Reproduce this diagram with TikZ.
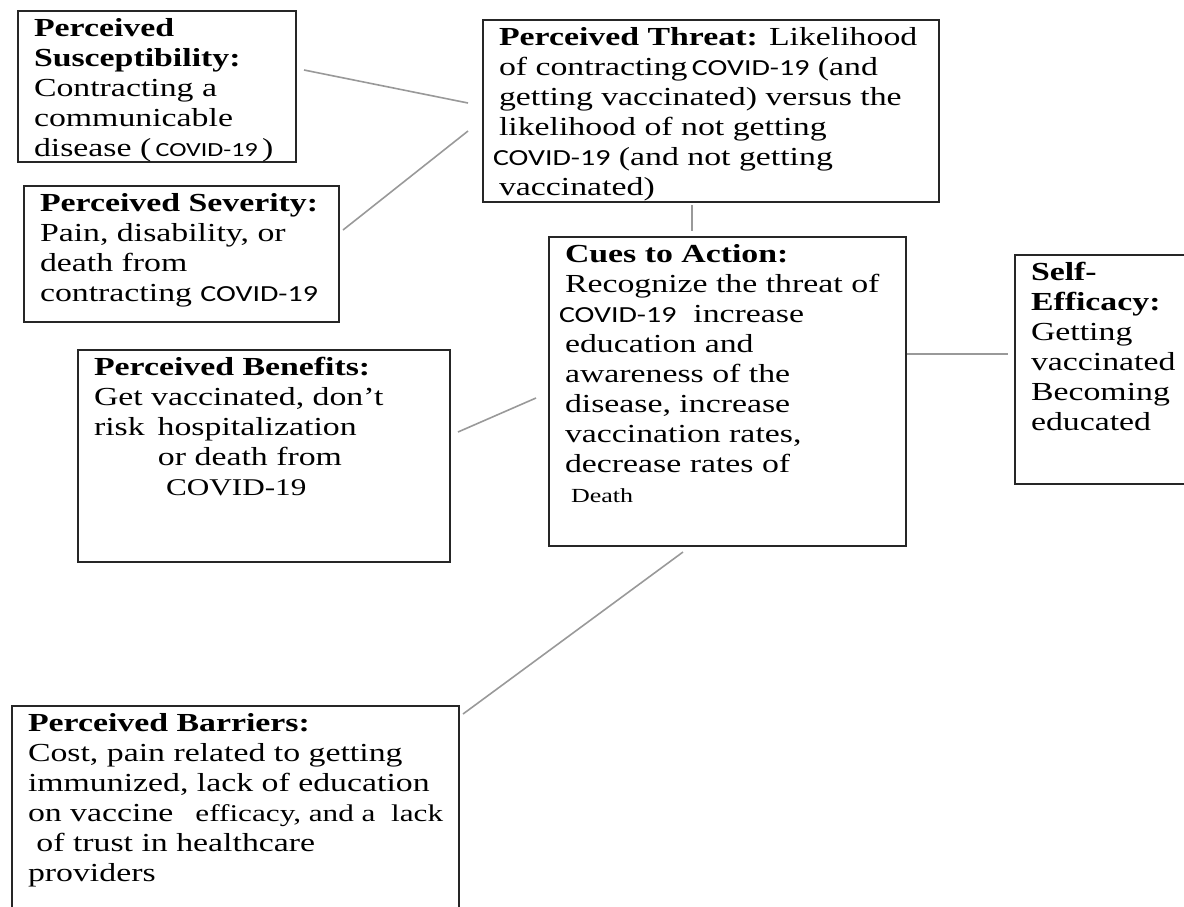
\documentclass[tikz,border=0pt]{standalone}
\usepackage{fontspec}
\setmainfont{Liberation Serif}[FakeStretch=1.3]
\newfontfamily\covfont{Carlito}[FakeStretch=1.3]
\usepackage{tikz}
\usetikzlibrary{calc}

\newcommand{\boxtext}[3]{\begin{minipage}[t][#2][t]{#1}\begin{tabular}[t]{@{}l@{}}#3\end{tabular}\end{minipage}}
\newcommand{\cv}{{\covfont\fontsize{11.5}{15}\selectfont COVID-19}}
\newcommand{\cvsmall}{{\covfont\fontsize{10}{15}\selectfont COVID-19}}

\begin{document}
\begin{tikzpicture}[x=0.5pt,y=-0.5pt,
        hbmbox/.style={draw=black!85,line width=1pt,inner xsep=8pt,inner ysep=2pt,anchor=north west,
            font=\fontsize{13}{15}\selectfont},
        link/.style={draw=black!40,line width=0.8pt}]
        \useasboundingbox (0,0) rectangle (1184,906);

        % Блоки
        \node[hbmbox] (sus) at (17,10) {\boxtext{123pt}{71.5pt}{\textbf{Perceived}\\ \textbf{Susceptibility:}\\ Contracting a\\ communicable\\ disease (\,\cvsmall\,)}};
        \node[hbmbox] (threat) at (482,19) {\boxtext{212pt}{87pt}{\textbf{Perceived Threat:} Likelihood\\ of contracting\,\cv{} (and\\ getting vaccinated) versus the\\ likelihood of not getting\\ \hspace*{-3pt}\cv{} (and not getting\\ vaccinated)}};
        \node[hbmbox] (sev) at (23,185) {\boxtext{141.5pt}{64pt}{\textbf{Perceived Severity:}\\ Pain, disability, or\\ death from\\ contracting \cv}};
        \node[hbmbox] (cues) at (548,236) {\boxtext{162.5pt}{150.5pt}{\textbf{Cues to Action:}\\ Recognize the threat of\\ \hspace*{-3pt}\cv\ \ increase\\ education and\\ awareness of the\\ disease, increase\\ vaccination rates,\\ decrease rates of\\ \hspace*{3pt}{\fontsize{10}{15}\selectfont Death}}};
        \node[hbmbox] (self) at (1014,254) {\boxtext{79pt}{110.5pt}{\textbf{Self-}\\ \textbf{Efficacy:}\\ Getting\\ vaccinated\\ Becoming\\ educated}};
        \node[hbmbox] (ben) at (77,349) {\boxtext{170pt}{102pt}{\textbf{Perceived Benefits:}\\ Get vaccinated, don’t\\ risk\hspace{6.5pt}hospitalization\\ \hspace*{32pt}or death from\\ \hspace*{36pt}{\fontsize{12}{15}\selectfont COVID-19}}};
        \node[hbmbox] (bar) at (11,705) {\boxtext{207.5pt}{106pt}{\textbf{Perceived Barriers:}\\ Cost, pain related to getting\\ immunized, lack of education\\ on vaccine\hspace{11pt}{\fontsize{12}{15}\selectfont efficacy, and a\ \ lack}\\ \ of trust in healthcare\\ providers}};

        % Зв'язки
        \draw[link] ($(sus.north east)+(7,60)$) -- ($(threat.north west)+(-14,84)$);
        \draw[link] ($(sev.north east)+(3,45)$) -- ($(threat.north west)+(-14,112)$);
        \draw[link] ($(threat.south)+(-19,2)$) -- ($(cues.north)+(-35.5,-5)$);
        \draw[link] ($(ben.east)+(7,-24)$) -- ($(cues.west)+(-12,6.5)$);
        \draw[link] ($(cues.east)+(0,-37.5)$) -- ($(self.west)+(-6,-15.5)$);
        \draw[link] ($(bar.north east)+(3,9)$) -- ($(cues.south)+(-44.5,5)$);
    \end{tikzpicture}
\end{document}
